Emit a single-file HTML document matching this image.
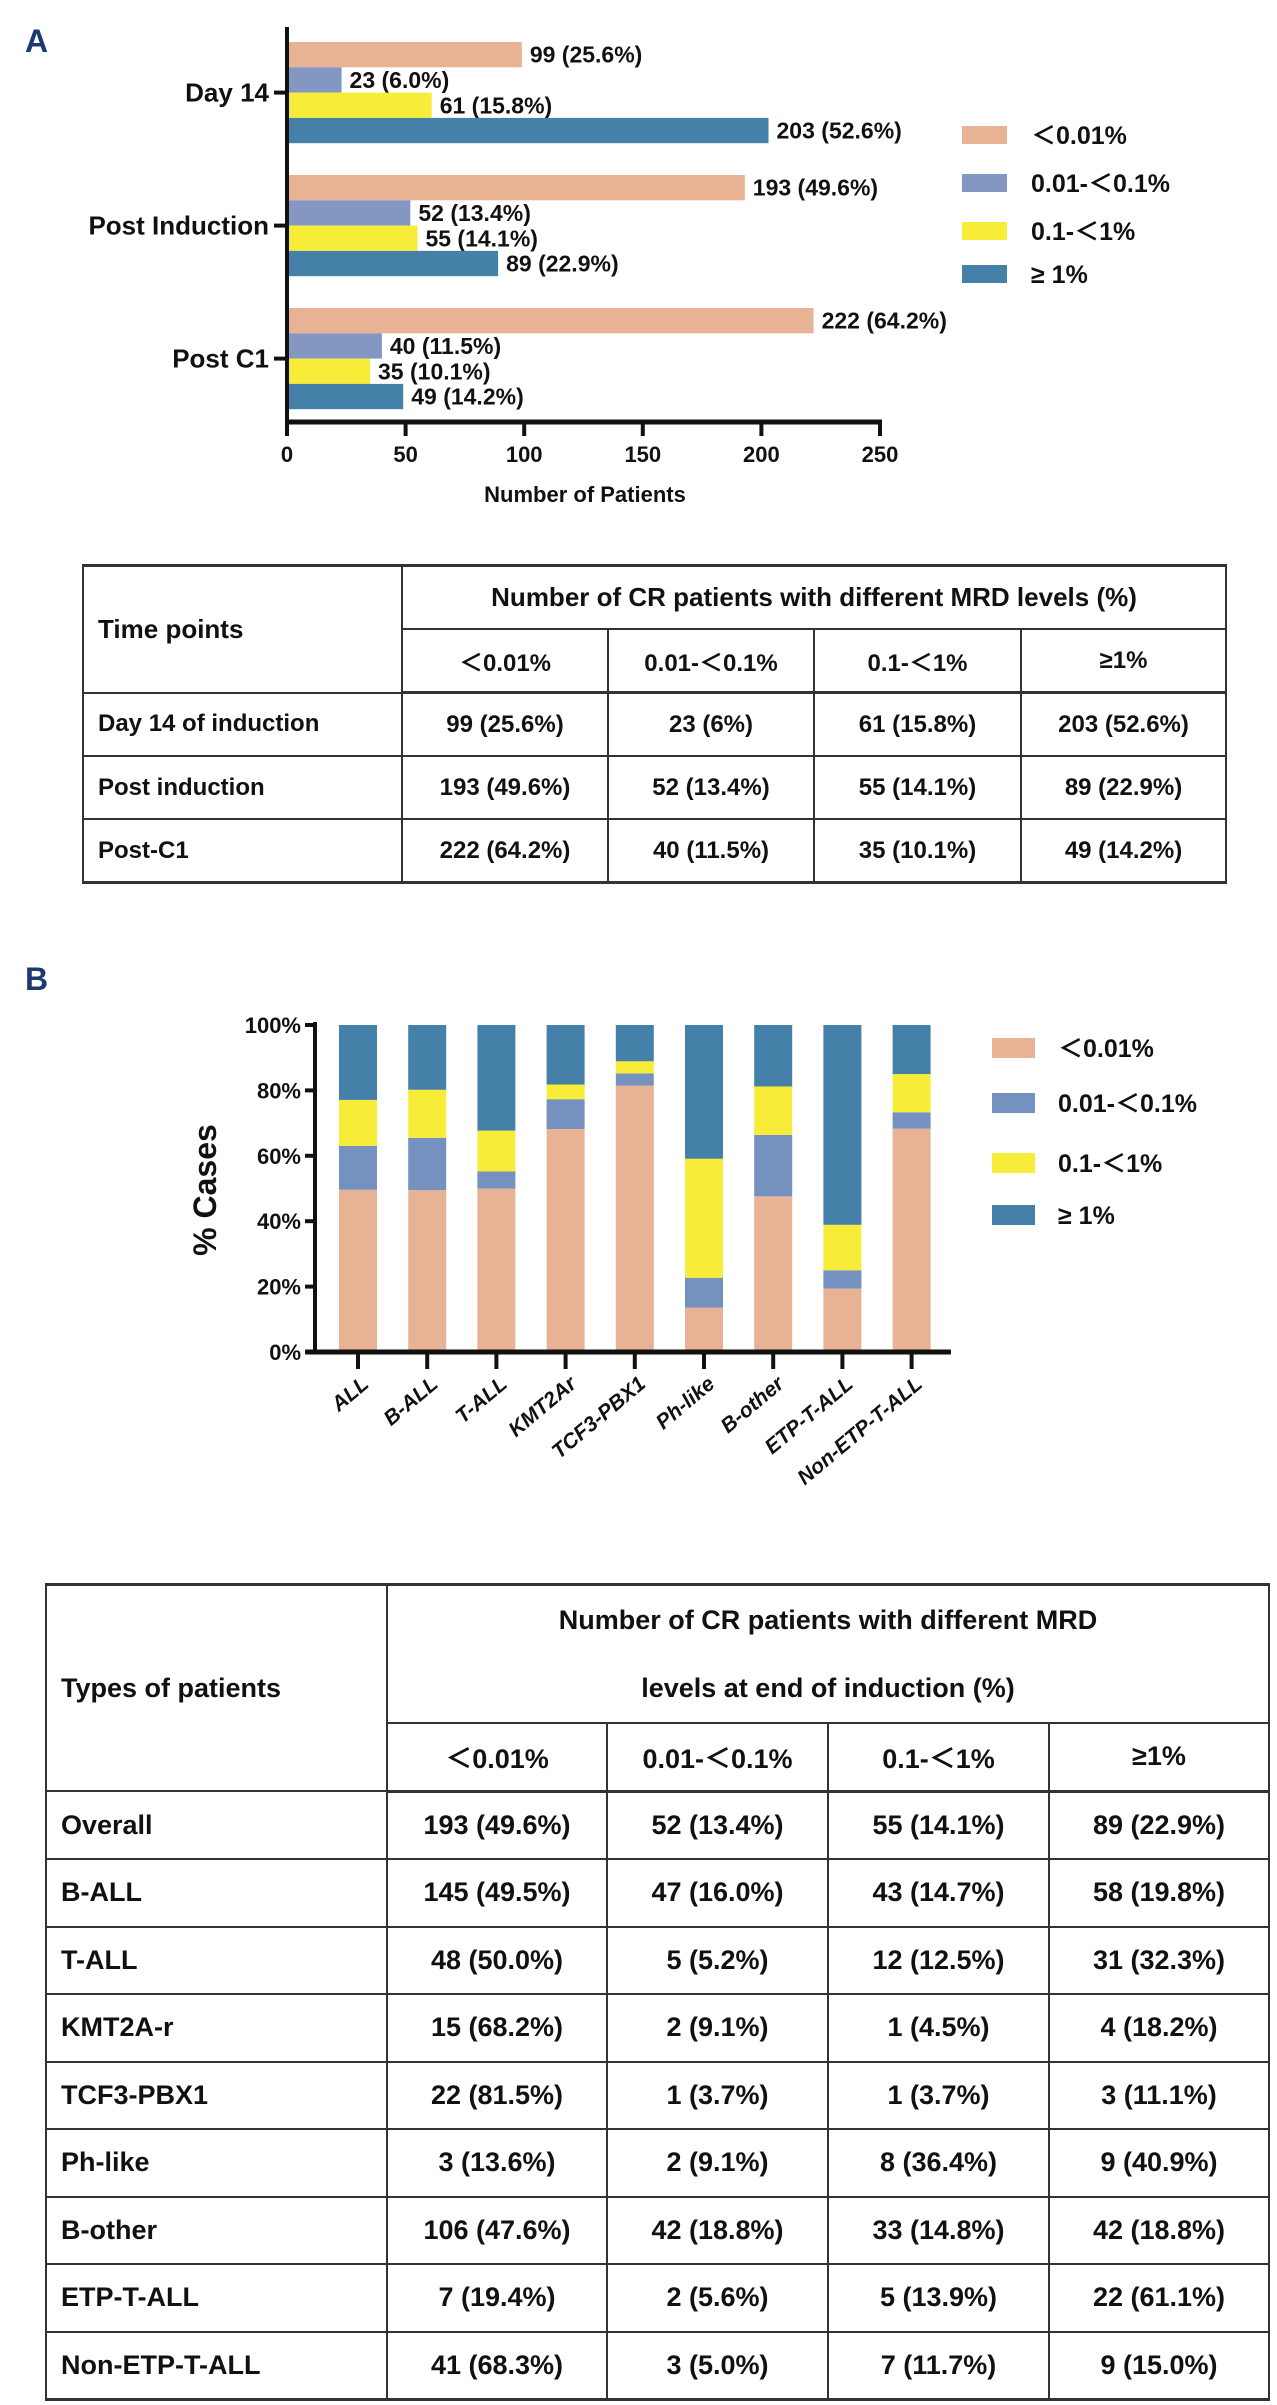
<!DOCTYPE html>
<html><head><meta charset="utf-8">
<style>
html,body{margin:0;padding:0;background:#fff;}
body{width:1277px;height:2405px;position:relative;overflow:hidden;font-family:"Liberation Sans","Noto Sans CJK SC",sans-serif;}
svg{position:absolute;left:0;top:0;}
svg text{font-family:"Liberation Sans","Noto Sans CJK SC",sans-serif;font-weight:bold;fill:#111;}
table{position:absolute;border-collapse:collapse;table-layout:fixed;font-weight:bold;color:#111;}
td{border:2px solid #333;text-align:center;padding:0;white-space:nowrap;}
td.l{text-align:left;padding-left:14px;}
#tA{left:82px;top:564px;width:1143px;font-size:24px;border-top:3px solid #333;border-bottom:3px solid #333;}
#tA td{height:61px;}
#tA td.hd{font-size:26px;}
#tA tr.sub td{border-bottom:3px solid #333;}
#tB{left:45px;top:1583px;width:1223px;font-size:27px;border-top:3px solid #333;border-bottom:3px solid #333;}
#tB td{height:65.5px;}
#tB tr.h1 td.hd{height:132px;line-height:68px;}
#tB tr.sub td{border-bottom:3px solid #333;}
</style></head>
<body>
<svg id="chart" width="1277" height="2405" viewBox="0 0 1277 2405" xmlns="http://www.w3.org/2000/svg">
  <text x="25" y="52" font-size="32" style="fill:#1b3a70">A</text>
  <text x="25" y="990" font-size="32" style="fill:#1b3a70">B</text>
  <g id="gA"></g>
  <g id="gB"></g>
</svg>

<table id="tA">
<colgroup><col style="width:319px"><col style="width:206px"><col style="width:206px"><col style="width:207px"><col style="width:205px"></colgroup>
<tr><td class="l hd" rowspan="2">Time points</td><td class="hd" colspan="4">Number of CR patients with different MRD levels (%)</td></tr>
<tr class="sub"><td>＜0.01%</td><td>0.01-＜0.1%</td><td>0.1-＜1%</td><td>≥1%</td></tr>
<tr><td class="l">Day 14 of induction</td><td>99 (25.6%)</td><td>23 (6%)</td><td>61 (15.8%)</td><td>203 (52.6%)</td></tr>
<tr><td class="l">Post induction</td><td>193 (49.6%)</td><td>52 (13.4%)</td><td>55 (14.1%)</td><td>89 (22.9%)</td></tr>
<tr><td class="l">Post-C1</td><td>222 (64.2%)</td><td>40 (11.5%)</td><td>35 (10.1%)</td><td>49 (14.2%)</td></tr>
</table>

<table id="tB">
<colgroup><col style="width:341px"><col style="width:220px"><col style="width:221px"><col style="width:221px"><col style="width:220px"></colgroup>
<tr class="h1"><td class="l" rowspan="2">Types of patients</td><td class="hd" colspan="4">Number of CR patients with different MRD<br>levels at end of induction (%)</td></tr>
<tr class="sub"><td>＜0.01%</td><td>0.01-＜0.1%</td><td>0.1-＜1%</td><td>≥1%</td></tr>
<tr><td class="l">Overall</td><td>193 (49.6%)</td><td>52 (13.4%)</td><td>55 (14.1%)</td><td>89 (22.9%)</td></tr>
<tr><td class="l">B-ALL</td><td>145 (49.5%)</td><td>47 (16.0%)</td><td>43 (14.7%)</td><td>58 (19.8%)</td></tr>
<tr><td class="l">T-ALL</td><td>48 (50.0%)</td><td>5 (5.2%)</td><td>12 (12.5%)</td><td>31 (32.3%)</td></tr>
<tr><td class="l">KMT2A-r</td><td>15 (68.2%)</td><td>2 (9.1%)</td><td>1 (4.5%)</td><td>4 (18.2%)</td></tr>
<tr><td class="l">TCF3-PBX1</td><td>22 (81.5%)</td><td>1 (3.7%)</td><td>1 (3.7%)</td><td>3 (11.1%)</td></tr>
<tr><td class="l">Ph-like</td><td>3 (13.6%)</td><td>2 (9.1%)</td><td>8 (36.4%)</td><td>9 (40.9%)</td></tr>
<tr><td class="l">B-other</td><td>106 (47.6%)</td><td>42 (18.8%)</td><td>33 (14.8%)</td><td>42 (18.8%)</td></tr>
<tr><td class="l">ETP-T-ALL</td><td>7 (19.4%)</td><td>2 (5.6%)</td><td>5 (13.9%)</td><td>22 (61.1%)</td></tr>
<tr><td class="l">Non-ETP-T-ALL</td><td>41 (68.3%)</td><td>3 (5.0%)</td><td>7 (11.7%)</td><td>9 (15.0%)</td></tr>
</table>

<script>
// ---------- Chart A data ----------
const catsA = ["Day 14", "Post Induction", "Post C1"];
const seriesNamesA = ["＜0.01%", "0.01-＜0.1%", "0.1-＜1%", "≥  1%"];
const countsLt001 = [99, 193, 222];
const counts001to01 = [23, 52, 40];
const counts01to1 = [61, 55, 35];
const countsGe1 = [203, 89, 49];
const pctLt001 = ["25.6", "49.6", "64.2"];
const pct001to01 = ["6.0", "13.4", "11.5"];
const pct01to1 = ["15.8", "14.1", "10.1"];
const pctGe1 = ["52.6", "22.9", "14.2"];
const ticksA = [0, 50, 100, 150, 200, 250];

// ---------- Chart B data ----------
const catsB = ["ALL", "B-ALL", "T-ALL", "KMT2Ar", "TCF3-PBX1", "Ph-like", "B-other", "ETP-T-ALL", "Non-ETP-T-ALL"];
const seriesNamesB = ["＜0.01%", "0.01-＜0.1%", "0.1-＜1%", "≥  1%"];
const pLt001 = [49.6, 49.5, 50.0, 68.2, 81.5, 13.6, 47.6, 19.4, 68.3];
const p001to01 = [13.4, 16.0, 5.2, 9.1, 3.7, 9.1, 18.8, 5.6, 5.0];
const p01to1 = [14.1, 14.7, 12.5, 4.5, 3.7, 36.4, 14.8, 13.9, 11.7];
const pGe1 = [22.9, 19.8, 32.3, 18.2, 11.1, 40.9, 18.8, 61.1, 15.0];
const ticksB = [0, 20, 40, 60, 80, 100];

const NS = "http://www.w3.org/2000/svg";
function mk(tag, attrs, parent, txt) {
  const e = document.createElementNS(NS, tag);
  for (const k in attrs) e.setAttribute(k, attrs[k]);
  if (txt !== undefined) e.textContent = txt;
  parent.appendChild(e);
  return e;
}

// ===== Chart A =====
(function () {
  const g = document.getElementById("gA");
  const x0 = 287, xMax = 250, x1 = 880, yTop = 27, yAxis = 422;
  const xA = v => x0 + (v / xMax) * (x1 - x0);
  const groupTop = [42, 175, 308];
  const barH = 25.3;
  const colors = ["#e8b394", "#8497c3", "#f7ec37", "#4580a8"];
  const vals = [countsLt001, counts001to01, counts01to1, countsGe1];
  const pcts = [pctLt001, pct001to01, pct01to1, pctGe1];
  const names = ["lt001", "001-01", "01-1", "ge1"];
  catsA.forEach((c, i) => {
    vals.forEach((arr, s) => {
      const y = groupTop[i] + s * barH;
      const r = mk("rect", { x: x0, y: y, width: xA(arr[i]) - x0, height: barH, fill: colors[s] }, g);
      
      
      const t = mk("text", { x: xA(arr[i]) + 8, y: y + barH / 2 + 8, "font-size": 23 }, g, arr[i] + " (" + pcts[s][i] + "%)");
      
      
    });
    const cy = groupTop[i] + 2 * barH;
    const tk = mk("line", { x1: x0 - 13, x2: x0, y1: cy, y2: cy, stroke: "#111", "stroke-width": 4 }, g);
    
    
    const cl = mk("text", { x: x0 - 18, y: cy + 9, "font-size": 26, "text-anchor": "end" }, g, c);
    
    
  });
  const ya = mk("line", { x1: x0, x2: x0, y1: yTop, y2: yAxis + 2, stroke: "#111", "stroke-width": 4 }, g);
  
  
  const xa = mk("line", { x1: x0 - 2, x2: x1 + 2, y1: yAxis, y2: yAxis, stroke: "#111", "stroke-width": 5 }, g);
  
  
  ticksA.forEach(v => {
    const tl = mk("line", { x1: xA(v), x2: xA(v), y1: yAxis, y2: yAxis + 14, stroke: "#111", "stroke-width": 4 }, g);
    
    
    const tt = mk("text", { x: xA(v), y: yAxis + 40, "font-size": 22, "text-anchor": "middle" }, g, String(v));
    
    
  });
  const xt = mk("text", { x: 585, y: 502, "font-size": 22, "text-anchor": "middle" }, g, "Number of Patients");
  
  
  const legY = [135, 183, 231, 274];
  seriesNamesA.forEach((n, s) => {
    const lr = mk("rect", { x: 962, y: legY[s] - 9, width: 45, height: 18, fill: colors[s] }, g);
    
    
    const lt = mk("text", { x: 1031, y: legY[s] + 9, "font-size": 25 }, g, n);
    
    
  });
})();

// ===== Chart B =====
(function () {
  const g = document.getElementById("gB");
  const x0 = 315, xEnd = 951, y0 = 1352, y100 = 1025;
  const yB = p => y0 - (p / 100) * (y0 - y100);
  const pitch = 69.2, first = 358, bw = 38;
  const xB = i => first + i * pitch;
  const colors = ["#e8b394", "#7591bf", "#f7ec37", "#4580a8"];
  const vals = [pLt001, p001to01, p01to1, pGe1];
  const names = ["lt001", "001-01", "01-1", "ge1"];
  catsB.forEach((c, i) => {
    let cum = 0;
    const tot = pLt001[i] + p001to01[i] + p01to1[i] + pGe1[i];
    vals.forEach((arr, s) => {
      const v = arr[i] / tot * 100;
      const r = mk("rect", { x: xB(i) - bw / 2, y: yB(cum + v), width: bw, height: yB(cum) - yB(cum + v), fill: colors[s] }, g);
      
      
      cum += v;
    });
    const tk = mk("line", { x1: xB(i), x2: xB(i), y1: y0, y2: y0 + 17, stroke: "#111", "stroke-width": 4 }, g);
    
    
    const lx = xB(i) + 12, ly = y0 + 34;
    const tl = mk("text", { x: lx, y: ly, "font-size": 21, "font-style": "italic", "text-anchor": "end", transform: "rotate(-40 " + lx + " " + ly + ")" }, g, c);
    
    
  });
  const ya = mk("line", { x1: x0, x2: x0, y1: y100 - 3, y2: y0 + 2, stroke: "#111", "stroke-width": 4 }, g);
  
  
  const xa = mk("line", { x1: x0 - 10, x2: xEnd, y1: y0, y2: y0, stroke: "#111", "stroke-width": 5 }, g);
  
  
  ticksB.forEach(p => {
    const tl = mk("line", { x1: x0 - 10, x2: x0, y1: yB(p), y2: yB(p), stroke: "#111", "stroke-width": 4 }, g);
    
    
    const tt = mk("text", { x: x0 - 14, y: yB(p) + 8, "font-size": 22, "text-anchor": "end" }, g, p + "%");
    
    
  });
  const yt = mk("text", { x: 216, y: 1190, "font-size": 32, "text-anchor": "middle", transform: "rotate(-90 216 1190)" }, g, "% Cases");
  
  
  const legY = [1048, 1103, 1163, 1215];
  seriesNamesB.forEach((n, s) => {
    const lr = mk("rect", { x: 992, y: legY[s] - 10, width: 43, height: 20, fill: colors[s] }, g);
    
    
    const lt = mk("text", { x: 1058, y: legY[s] + 9, "font-size": 25 }, g, n);
    
    
  });
})();
</script>
</body></html>
